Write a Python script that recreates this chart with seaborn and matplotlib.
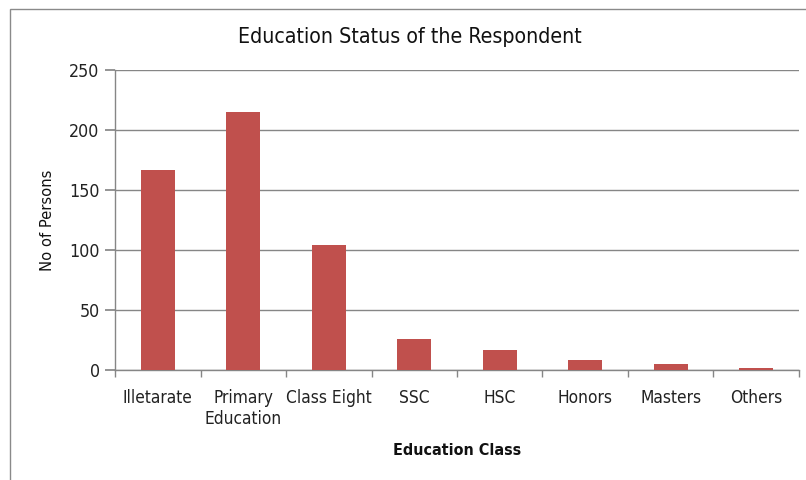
import matplotlib
matplotlib.use("Agg")
import matplotlib.pyplot as plt
from matplotlib.patches import Rectangle
import seaborn as sns
import pandas as pd

categories = ["Illetarate", "Primary\nEducation", "Class Eight", "SSC", "HSC",
              "Honors", "Masters", "Others"]
persons = [167, 215, 104, 26, 17, 8, 5, 2]
y_ticks = [0, 50, 100, 150, 200, 250]

sns.set_theme(style="white")
plt.rcParams["font.family"] = ["DejaVu Sans"]
plt.rcParams["font.stretch"] = "condensed"

df = pd.DataFrame({"cls": categories, "n": persons})

fig = plt.figure(figsize=(8.06, 4.8), dpi=100)
ax = fig.add_axes([0.1427, 0.2292, 0.8486, 0.625])

sns.barplot(data=df, x="cls", y="n", color="#C0504D", saturation=1,
            width=0.40, linewidth=0, ax=ax, zorder=3)

grey = "#868686"
ax.set_ylim(0, 250)
ax.set_xlim(-0.5, len(categories) - 0.5)
ax.set_yticks(y_ticks)
ax.yaxis.grid(True, color=grey, linewidth=1.0, zorder=0)
ax.xaxis.grid(False)

for side in ("top", "right"):
    ax.spines[side].set_visible(False)
for side in ("left", "bottom"):
    ax.spines[side].set_color(grey)
    ax.spines[side].set_linewidth(1.0)

ax.tick_params(axis="y", which="major", length=7, color=grey, labelsize=12.8,
               labelcolor="#222222", left=True, pad=4)
ax.set_xticks(range(len(categories)))
ax.set_xticklabels(categories, fontsize=12.4, color="#222222", linespacing=1.15)
ax.tick_params(axis="x", which="major", length=0, pad=14)
ax.set_xticks([i - 0.5 for i in range(len(categories) + 1)], minor=True)
ax.tick_params(axis="x", which="minor", length=5, color=grey, bottom=True)

ax.set_xlabel("Education Class", fontsize=11.5, fontweight="semibold",
              color="#111111", labelpad=11)
ax.set_ylabel("No of Persons", fontsize=11.8, color="#111111", labelpad=10)

fig.text(0.508, 0.923, "Education Status of the Respondent", ha="center",
         va="center", fontsize=15.3, color="#111111")

# outer chart frame
fig.patches.append(Rectangle((10 / 806, -0.05), 1.0, 1 - 9 / 480 + 0.05,
                             transform=fig.transFigure, fill=False,
                             edgecolor="#8a8a8a", linewidth=1.0))

fig.savefig("out.png", dpi=100)
